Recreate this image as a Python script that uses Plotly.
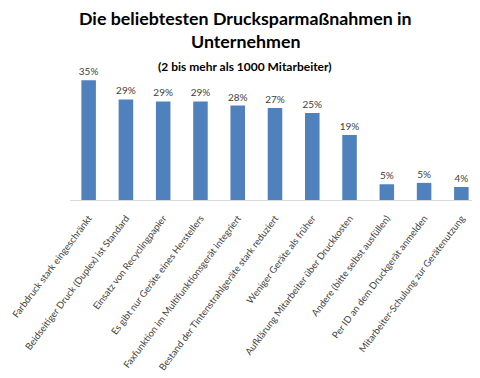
import plotly.graph_objects as go

categories = [
    "Farbdruck stark eingeschränkt",
    "Beidseitiger Druck (Duplex) ist Standard",
    "Einsatz von Recyclingpapier",
    "Es gibt nur Geräte eines Herstellers",
    "Faxfunktion im Multifunktionsgerät integriert",
    "Bestand der Tintenstrahlgeräte stark reduziert",
    "Weniger Geräte als früher",
    "Aufklärung Mitarbeiter über Druckkosten",
    "Andere (bitte selbst ausfüllen)",
    "Per ID an dem Druckgerät anmelden",
    "Mitarbeiter-Schulung zur Gerätenutzung",
]
values = [35.0, 29.4, 28.8, 28.8, 27.6, 26.9, 25.4, 19.0, 4.6, 5.0, 3.8]
labels = ["35%", "29%", "29%", "29%", "28%", "27%", "25%", "19%", "5%", "5%", "4%"]

title_line1 = "Die beliebtesten Drucksparmaßnahmen in"
title_line2 = "Unternehmen"
subtitle = "(2 bis mehr als 1000 Mitarbeiter)"

FONT = "Lato"
# page body has an 8px margin, so the figure is drawn 8px smaller
OFF = 8
W, H = 480 - OFF, 378 - OFF
ML, MR, MT = 70 - OFF, 0, 70 - OFF
MB = H - (200.5 - OFF)

fig = go.Figure(
    go.Bar(
        x=categories,
        y=values,
        text=labels,
        textposition="outside",
        constraintext="none",
        textfont=dict(family=FONT, size=10, color="#404040"),
        cliponaxis=False,
        marker=dict(color="#4F81BD", line=dict(width=0)),
        width=0.39,
    )
)

pw = W - ML - MR
ph = H - MT - MB


def ann(text, px, py, size):
    px -= OFF
    py -= OFF
    return dict(
        text=text,
        x=(px - ML) / pw,
        y=(H - MB - py) / ph,
        xref="paper",
        yref="paper",
        xanchor="center",
        yanchor="middle",
        showarrow=False,
        font=dict(family=FONT, size=size, color="#000000"),
    )


fig.update_layout(
    width=W,
    height=H,
    margin=dict(l=ML, r=MR, t=MT, b=MB, autoexpand=False),
    paper_bgcolor="white",
    plot_bgcolor="white",
    showlegend=False,
    font=dict(family=FONT, color="#404040"),
    annotations=[
        ann("<b>" + title_line1 + "</b>", 245, 18, 17.8),
        ann("<b>" + title_line2 + "</b>", 245, 41, 17.8),
        ann("<b>" + subtitle + "</b>", 245, 66, 12),
    ],
)

fig.update_xaxes(
    automargin=False,
    tickangle=-53,
    tickfont=dict(family=FONT, size=9.5, color="#404040"),
    showline=True,
    linecolor="#D9D9D9",
    linewidth=1,
    ticks="outside",
    ticklen=8,
    tickcolor="rgba(0,0,0,0)",
    showgrid=False,
)
fig.update_yaxes(
    automargin=False,
    range=[0, 38],
    visible=False,
    showgrid=False,
    zeroline=False,
)

fig.write_html("out.html")
